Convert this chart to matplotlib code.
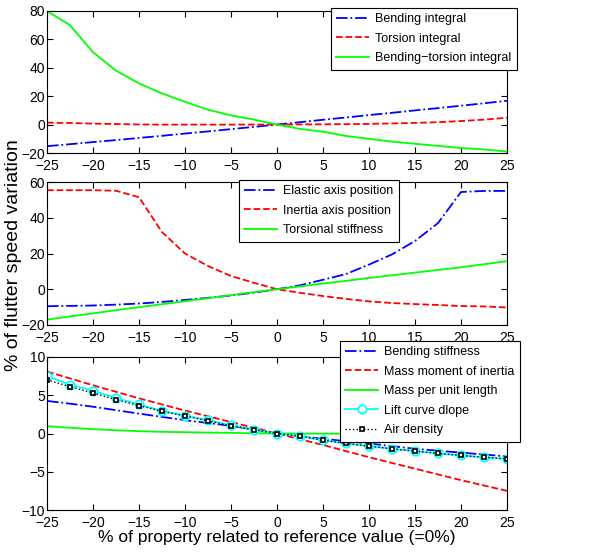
import matplotlib
matplotlib.use('Agg')
import matplotlib.pyplot as plt

plt.rcParams['font.family'] = ['Liberation Sans', 'DejaVu Sans']

# x positions (% of property related to reference value)
x = [-25, -22.5, -20, -17.5, -15, -12.5, -10, -7.5, -5, -2.5, 0,
     2.5, 5, 7.5, 10, 12.5, 15, 17.5, 20, 22.5, 25]

# top panel
bending_integral = [-15.2, -13.8, -12.3, -10.9, -9.4, -7.9, -6.3, -4.8, -3.2, -1.6, 0,
                    1.7, 3.4, 5.0, 6.7, 8.3, 10.0, 11.6, 13.3, 15.0, 16.8]
torsion_integral = [1.4, 1.1, 0.7, 0.4, 0.1, 0.0, 0.0, 0.0, 0.0, 0.0, 0,
                    0.1, 0.2, 0.3, 0.5, 0.8, 1.2, 1.7, 2.5, 3.5, 4.8]
bt_integral = [80, 70, 51, 38, 29, 22, 16, 10.5, 6.5, 3.5, 0,
               -3, -5, -8, -10, -12, -13.5, -15, -16.5, -17.5, -19]

# middle panel
elastic_axis = [-9.5, -9.3, -9.1, -8.6, -8.0, -7.1, -6.0, -4.8, -3.5, -1.9, 0,
                2.2, 5.3, 8.5, 13.8, 19.5, 27, 37, 54.4, 55, 55]
inertia_axis = [55.4, 55.4, 55.4, 55.1, 51.5, 32, 20, 13, 7.4, 3.6, 0,
                -2.0, -3.8, -5.4, -6.8, -7.7, -8.3, -8.8, -9.4, -9.6, -10.2]
torsional_stiffness = [-17.0, -15.2, -13.5, -11.7, -10.0, -8.4, -6.7, -5.0, -3.3, -1.6, 0,
                       1.6, 3.2, 4.7, 6.3, 7.8, 9.3, 10.8, 12.3, 14.0, 15.7]

# bottom panel
bending_stiffness = [4.26, 3.9, 3.5, 3.05, 2.6, 2.17, 1.74, 1.37, 1.0, 0.5, 0,
                     -0.35, -0.7, -1.0, -1.3, -1.65, -2.0, -2.25, -2.5, -2.75, -3.0]
mass_moment = [8.1, 7.2, 6.3, 5.45, 4.6, 3.8, 3.0, 2.25, 1.5, 0.75, 0,
               -0.75, -1.5, -2.3, -3.1, -3.85, -4.6, -5.35, -6.1, -6.8, -7.5]
mass_per_length = [0.96, 0.75, 0.57, 0.42, 0.3, 0.22, 0.17, 0.12, 0.08, 0.04, 0,
                   -0.01, -0.02, -0.02, -0.03, -0.03, -0.04, -0.04, -0.05, -0.05, -0.05]
lift_slope = [7.5, 6.4, 5.6, 4.65, 3.8, 2.95, 2.35, 1.74, 1.1, 0.52, 0,
              -0.35, -0.87, -1.3, -1.65, -2.0, -2.3, -2.6, -2.87, -3.13, -3.35]
air_density = [7.0, 6.13, 5.3, 4.43, 3.65, 2.9, 2.3, 1.65, 1.0, 0.52, 0,
               -0.35, -0.87, -1.3, -1.65, -2.0, -2.3, -2.6, -2.87, -3.1, -3.3]

xticks = [-25, -20, -15, -10, -5, 0, 5, 10, 15, 20, 25]

fig = plt.figure(figsize=(6.07, 5.55), dpi=100)
W, H = 607.0, 555.0
left, width = 47 / W, 460 / W
ax1 = fig.add_axes([left, 1 - 153 / H, width, 142 / H])
ax2 = fig.add_axes([left, 1 - 325 / H, width, 143 / H])
ax3 = fig.add_axes([left, 1 - 510 / H, width, 153 / H])

lw = 1.3
ax1.plot(x, bending_integral, color='b', ls='-.', lw=lw, label='Bending integral')
ax1.plot(x, torsion_integral, color='r', ls='--', lw=lw, label='Torsion integral')
ax1.plot(x, bt_integral, color='#00ff00', ls='-', lw=lw, label='Bending\u2212torsion integral')
ax1.set_ylim(-20, 80)
ax1.set_yticks([-20, 0, 20, 40, 60, 80])

ax2.plot(x, elastic_axis, color='b', ls='-.', lw=lw, label='Elastic axis position')
ax2.plot(x, inertia_axis, color='r', ls='--', lw=lw, label='Inertia axis position')
ax2.plot(x, torsional_stiffness, color='#00ff00', ls='-', lw=lw, label='Torsional stiffness')
ax2.set_ylim(-20, 60)
ax2.set_yticks([-20, 0, 20, 40, 60])

ax3.plot(x, bending_stiffness, color='b', ls='-.', lw=lw, label='Bending stiffness')
ax3.plot(x, mass_moment, color='r', ls='--', lw=lw, label='Mass moment of inertia')
ax3.plot(x, mass_per_length, color='#00ff00', ls='-', lw=lw, label='Mass per unit length')
ax3.plot(x, lift_slope, color='cyan', ls='-', lw=lw, marker='o', ms=6,
         mfc='white', mec='cyan', mew=1.3, label='Lift curve dlope')
ax3.plot(x, air_density, color='k', ls=':', lw=1.0, marker='s', ms=3.5,
         mfc='white', mec='k', mew=1.2, label='Air density')
ax3.set_ylim(-10, 10)
ax3.set_yticks([-10, -5, 0, 5, 10])
ax3.set_xlabel('% of property related to reference value (=0%)', fontsize=12.5, labelpad=0)

# shared y label for the three panels
fig.text(14 / W, 1 - 255 / H, '% of flutter speed variation', rotation=90,
         ha='center', va='center', fontsize=14)

for ax in (ax1, ax2, ax3):
    ax.set_xlim(-25, 25)
    ax.set_xticks(xticks)
    ax.tick_params(direction='in', top=True, right=True, labelsize=10, length=4)
    ax.tick_params(axis='y', pad=1.5)
    ax.tick_params(axis='x', pad=4)
    for s in ax.spines.values():
        s.set_linewidth(0.8)

leg_kw = dict(loc='upper left', bbox_transform=fig.transFigure, borderaxespad=0,
              fancybox=False, framealpha=1, edgecolor='k', fontsize=9,
              handlelength=2.65, labelspacing=0.6, borderpad=0.42, handletextpad=0.48)
l1 = ax1.legend(bbox_to_anchor=(331 / W, 1 - 8 / H), **leg_kw)
l2 = ax2.legend(bbox_to_anchor=(239 / W, 1 - 180 / H), **leg_kw)
l3 = ax3.legend(bbox_to_anchor=(340 / W, 1 - 341 / H), **leg_kw)
for l in (l1, l2, l3):
    l.get_frame().set_linewidth(0.8)
l3.set_zorder(10)

fig.savefig('out.png', dpi=100)
